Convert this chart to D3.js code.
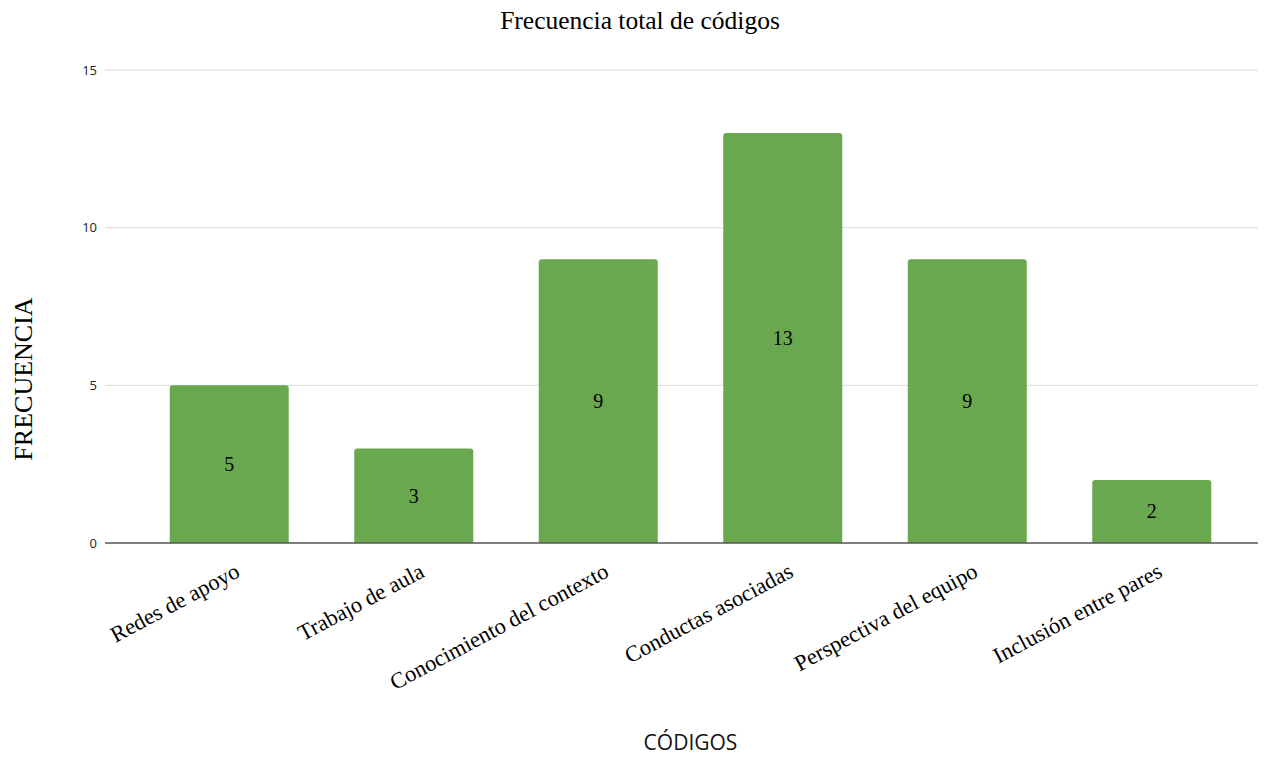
<!DOCTYPE html>
<html>
<head>
<meta charset="utf-8">
<script src="https://cdn.jsdelivr.net/npm/d3@7"></script>
<style>
  body { margin: 0; background: #fff; }
  .serif { font-family: "Liberation Serif", "Times New Roman", serif; }
  .sans { font-family: "Open Sans", "Noto Sans", sans-serif; }
</style>
</head>
<body>
<svg id="chart"></svg>
<script>
// chart data
var categories = ["Redes de apoyo", "Trabajo de aula", "Conocimiento del contexto",
                  "Conductas asociadas", "Perspectiva del equipo", "Inclusión entre pares"];
var frecuencias = [5, 3, 9, 13, 9, 2];
var yTicks = [0, 5, 10, 15];

var screen = {width: 1274, height: 757};
var margins = {left: 137, right: 30, top: 70, bottom: 214};
var graph = {
    width: screen.width - margins.left - margins.right,
    height: screen.height - margins.top - margins.bottom
};

var svg = d3.select("#chart")
    .attr("width", screen.width)
    .attr("height", screen.height);

var xScale = d3.scaleBand()
    .domain(categories)
    .range([margins.left, margins.left + graph.width])
    .paddingInner(0.355)
    .paddingOuter(0.1775);

var yScale = d3.scaleLinear()
    .domain([0, 15])
    .range([margins.top + graph.height, margins.top]);

// grid lines
var gridLeft = 105, gridRight = 1258;
svg.append("g")
    .selectAll("line")
    .data(yTicks.slice(1))
    .enter()
    .append("line")
    .attr("x1", gridLeft)
    .attr("x2", gridRight)
    .attr("y1", function(d) { return yScale(d); })
    .attr("y2", function(d) { return yScale(d); })
    .attr("stroke", "#d9d9d9")
    .attr("stroke-width", 1);

// y tick labels
svg.append("g")
    .selectAll("text")
    .data(yTicks)
    .enter()
    .append("text")
    .classed("sans", true)
    .attr("x", 97)
    .attr("y", function(d) { return yScale(d); })
    .attr("dy", "0.35em")
    .attr("text-anchor", "end")
    .attr("font-size", 13)
    .attr("fill", "#222")
    .text(function(d) { return d; });

// bars with rounded top corners
var r = 3;
svg.append("g")
    .selectAll("path")
    .data(frecuencias)
    .enter()
    .append("path")
    .attr("d", function(d, i) {
        var x0 = xScale(categories[i]), x1 = x0 + xScale.bandwidth();
        var y0 = yScale(0), y1 = yScale(d);
        return "M" + x0 + "," + y0 + "V" + (y1 + r) +
               "Q" + x0 + "," + y1 + " " + (x0 + r) + "," + y1 +
               "H" + (x1 - r) +
               "Q" + x1 + "," + y1 + " " + x1 + "," + (y1 + r) +
               "V" + y0 + "Z";
    })
    .attr("fill", "#6aa84f");

// value labels
svg.append("g")
    .selectAll("text")
    .data(frecuencias)
    .enter()
    .append("text")
    .classed("serif", true)
    .attr("x", function(d, i) { return xScale(categories[i]) + xScale.bandwidth() / 2; })
    .attr("y", function(d) { return (yScale(0) + yScale(d)) / 2; })
    .attr("dy", "0.35em")
    .attr("text-anchor", "middle")
    .attr("font-size", 20)
    .attr("fill", "#000")
    .text(function(d) { return d; });

// baseline
svg.append("line")
    .attr("x1", gridLeft)
    .attr("x2", gridRight)
    .attr("y1", yScale(0))
    .attr("y2", yScale(0))
    .attr("stroke", "#555")
    .attr("stroke-width", 1.3);

// x category labels
svg.append("g")
    .selectAll("text")
    .data(categories)
    .enter()
    .append("text")
    .classed("serif", true)
    .attr("transform", function(d) {
        var cx = xScale(d) + xScale.bandwidth() / 2;
        return "translate(" + (cx + 12) + "," + (yScale(0) + 33) + ") rotate(-28)";
    })
    .attr("text-anchor", "end")
    .attr("font-size", 22.5)
    .attr("fill", "#000")
    .text(function(d) { return d; });

// title
svg.append("text")
    .classed("serif", true)
    .attr("x", 640)
    .attr("y", 29)
    .attr("text-anchor", "middle")
    .attr("font-size", 25.5)
    .attr("fill", "#000")
    .text("Frecuencia total de códigos");

// x axis title
svg.append("text")
    .classed("sans", true)
    .attr("x", margins.left + graph.width / 2)
    .attr("y", 750)
    .attr("text-anchor", "middle")
    .attr("font-size", 21)
    .attr("fill", "#111")
    .text("CÓDIGOS");

// y axis title
svg.append("g")
    .attr("transform", "translate(32," + 379 + ")")
    .append("text")
    .classed("serif", true)
    .attr("transform", "rotate(-90)")
    .attr("text-anchor", "middle")
    .attr("font-size", 26)
    .attr("fill", "#000")
    .text("FRECUENCIA");
</script>
</body>
</html>
